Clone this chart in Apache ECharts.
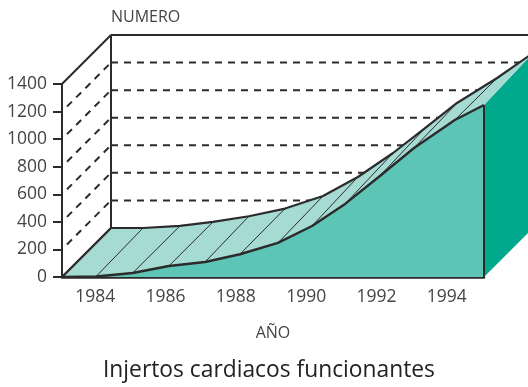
<!DOCTYPE html>
<html>
<head>
<meta charset="utf-8">
<style>html,body{margin:0;padding:0;background:#fff}#c{width:528px;height:387px}</style>
<script src="https://cdn.jsdelivr.net/npm/echarts@6/dist/echarts.min.js"></script>
</head>
<body>
<div id="c"></div>
<script>
var titleText = 'Injertos cardiacos funcionantes';
var yName = 'NUMERO';
var xName = 'AÑO';
var yTicks = [200, 400, 600, 800, 1000, 1200];
var xLabelYears = [1984, 1986, 1988, 1990, 1992, 1994];
var frontYears = [1983, 1983.97, 1985.01, 1986.04, 1987.07, 1988.06, 1989.14, 1990.11, 1991.05, 1992.04, 1993.01, 1994.17, 1995];
var frontValues = [0, 4, 29, 80, 109, 165, 247, 370, 530, 733, 936, 1139, 1248];
var backYears = [1983, 1983.91, 1984.96, 1985.9, 1986.92, 1987.95, 1989.03, 1990.02, 1991.02, 1991.93, 1992.84, 1993.98, 1995];
var backValues = [0, 0, 15, 44, 85, 141, 232, 370, 544, 725, 907, 1088, 1269];
var depthYears = 1.393, depthValue = 355.5;
var xMin = 1983, xMax = 1995, yMax = 1400;

var INK = '#2b2b2b', FRONT = '#5cc5b6', RIBBON = '#a6dbd4', SIDE = '#00a88c';
var FONT = '"Open Sans"';

function rear(api, x, v) { return api.coord([x + depthYears, v + depthValue]); }
function seg(p, q, w, dash) {
  return {type: 'line', shape: {x1: p[0], y1: p[1], x2: q[0], y2: q[1]},
          style: {stroke: INK, lineWidth: w, lineDash: dash || null, fill: null}};
}

var chart = echarts.init(document.getElementById('c'), null, {renderer: 'canvas'});
chart.setOption({
  animation: false,
  backgroundColor: '#fff',
  title: [
    {text: yName, left: 111, top: 8, padding: 0, textStyle: {fontFamily: FONT, fontSize: 16, fontWeight: 'normal', color: '#444', lineHeight: 18}},
    {text: titleText, left: 103, top: 358, padding: 0, textStyle: {fontFamily: FONT, fontSize: 22.8, fontWeight: 'normal', color: '#222', lineHeight: 26}}
  ],
  grid: {left: 62, right: 44, top: 84, bottom: 110},
  xAxis: {
    type: 'value', min: xMin, max: xMax, interval: 1,
    name: xName, nameLocation: 'middle', nameGap: 48,
    nameTextStyle: {fontFamily: FONT, fontSize: 16, color: '#444'},
    axisLine: {lineStyle: {color: INK, width: 2.5}},
    axisTick: {show: false}, splitLine: {show: false},
    axisLabel: {
      fontFamily: FONT, fontSize: 17.5, color: '#444', margin: 11, padding: [0, 4, 0, 0],
      showMinLabel: true, showMaxLabel: true, hideOverlap: false,
      formatter: function (v) { return xLabelYears.indexOf(v) >= 0 ? String(v) : ''; }
    }
  },
  yAxis: {
    type: 'value', min: 0, max: yMax, interval: 200,
    axisLine: {show: true, lineStyle: {color: INK, width: 2}},
    axisTick: {show: true, length: 9, lineStyle: {color: INK, width: 2}},
    splitLine: {show: false},
    axisLabel: {fontFamily: FONT, fontSize: 17.5, color: '#444', margin: 15, formatter: function (v) { return String(v); }}
  },
  series: [
    {
      name: 'grid', type: 'custom', coordinateSystem: 'cartesian2d', z: 1, silent: true,
      data: yTicks.map(function (t) { return [xMin, t]; }),
      encode: {x: 0, y: 1},
      renderItem: function (params, api) {
        var t = api.value(1);
        var f = api.coord([xMin, t]);
        var b = rear(api, xMin, t);
        var e = rear(api, xMax, t);
        return {type: 'group', children: [
          seg([f[0] + 5, f[1] - 5], b, 2, [7, 6]),
          seg(b, e, 2, [7, 6])
        ]};
      }
    },
    {
      name: 'walls', type: 'custom', coordinateSystem: 'cartesian2d', z: 2, silent: true,
      data: [[xMin, yMax]],
      encode: {x: 0, y: 1},
      renderItem: function (params, api) {
        var ft = api.coord([xMin, yMax]);
        var bt = rear(api, xMin, yMax);
        var et = rear(api, xMax, yMax);
        var bb = rear(api, xMin, 0);
        return {type: 'group', children: [
          seg(ft, bt, 2), seg(bt, et, 2.2), seg(bt, bb, 2)
        ]};
      }
    },
    {
      name: 'side', type: 'custom', coordinateSystem: 'cartesian2d', z: 3, silent: true,
      data: [[frontYears[12], frontValues[12], backYears[12], backValues[12]]],
      encode: {x: 0, y: 1},
      renderItem: function (params, api) {
        return {type: 'polygon', shape: {points: [
          api.coord([api.value(0), api.value(1)]),
          rear(api, api.value(2), api.value(3)),
          rear(api, api.value(2), 0),
          api.coord([api.value(0), 0])
        ]}, style: {fill: SIDE, stroke: null}};
      }
    },
    {
      name: 'ribbon', type: 'custom', coordinateSystem: 'cartesian2d', z: 4, silent: true,
      data: [frontYears.map(function (y, i) { return i; })],
      renderItem: function (params, api) {
        var front = frontYears.map(function (y, i) { return api.coord([y, frontValues[i]]); });
        var back = backYears.map(function (y, i) { return rear(api, y, backValues[i]); });
        var kids = [{type: 'polygon', shape: {points: front.concat(back.slice().reverse())},
                     style: {fill: RIBBON, stroke: null}}];
        for (var i = 1; i < front.length - 1; i++) kids.push(seg(front[i], back[i], 1));
        kids.push(seg(front[0], back[0], 2.4));
        kids.push({type: 'polyline', shape: {points: back},
                   style: {stroke: INK, lineWidth: 2.2, fill: null, lineJoin: 'round'}});
        return {type: 'group', children: kids};
      }
    },
    {
      name: 'Injertos', type: 'line', z: 5, silent: true,
      data: frontYears.map(function (y, i) { return [y, frontValues[i]]; }),
      showSymbol: false, symbol: 'none',
      lineStyle: {color: INK, width: 2.4},
      areaStyle: {color: FRONT, opacity: 1}
    },
    {
      name: 'edge', type: 'custom', coordinateSystem: 'cartesian2d', z: 6, silent: true,
      data: [[frontYears[12], frontValues[12]]],
      encode: {x: 0, y: 1},
      renderItem: function (params, api) {
        return seg(api.coord([api.value(0), api.value(1)]), api.coord([api.value(0), 0]), 2);
      }
    }
  ]
});
</script>
</body>
</html>
